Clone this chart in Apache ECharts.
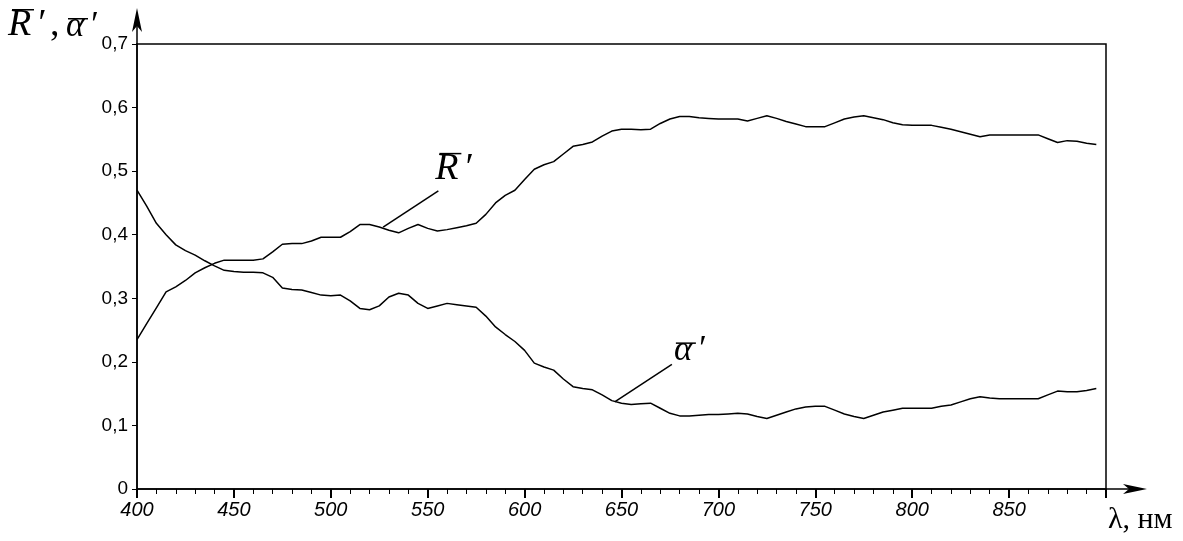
<!DOCTYPE html>
<html>
<head>
<meta charset="utf-8">
<script src="https://cdn.jsdelivr.net/npm/echarts/dist/echarts.min.js"></script>
<style>
  html, body { margin: 0; padding: 0; background: #fff; }
  #main { width: 1183px; height: 541px; }
</style>
</head>
<body>
<div id="main"></div>
<script>
// длины волн, нм
var wavelengths = [400,405,410,415,420,425,430,435,440,445,450,455,460,465,470,475,480,485,490,495,
  500,505,510,515,520,525,530,535,540,545,550,555,560,565,570,575,580,585,590,595,
  600,605,610,615,620,625,630,635,640,645,650,655,660,665,670,675,680,685,690,695,
  700,705,710,715,720,725,730,735,740,745,750,755,760,765,770,775,780,785,790,795,
  800,805,810,815,820,825,830,835,840,845,850,855,860,865,870,875,880,885,890,895];

// R' (отражение)
var reflValues = [0.235,0.26,0.285,0.31,0.318,0.328,0.34,0.348,0.355,0.36,0.36,0.36,0.36,0.362,0.373,0.385,0.386,0.386,0.39,0.396,
  0.396,0.396,0.405,0.416,0.416,0.412,0.407,0.403,0.41,0.416,0.41,0.406,0.408,0.411,0.414,0.418,0.432,0.45,0.462,0.47,
  0.487,0.503,0.51,0.515,0.527,0.539,0.542,0.546,0.555,0.563,0.566,0.566,0.565,0.566,0.575,0.582,0.586,0.586,0.584,0.583,
  0.582,0.582,0.582,0.579,0.583,0.587,0.583,0.578,0.574,0.57,0.57,0.57,0.576,0.582,0.585,0.587,0.584,0.581,0.576,0.573,
  0.572,0.572,0.572,0.569,0.566,0.562,0.558,0.554,0.557,0.557,0.557,0.557,0.557,0.557,0.551,0.545,0.548,0.547,0.544,0.542];

// alpha' (поглощение)
var absValues = [0.47,0.445,0.418,0.4,0.384,0.375,0.368,0.359,0.351,0.344,0.342,0.341,0.341,0.34,0.333,0.316,0.314,0.313,0.309,0.305,
  0.304,0.305,0.296,0.284,0.282,0.288,0.302,0.308,0.305,0.292,0.284,0.288,0.292,0.29,0.288,0.286,0.272,0.255,0.243,0.232,
  0.218,0.198,0.192,0.187,0.173,0.161,0.158,0.156,0.148,0.139,0.135,0.133,0.134,0.135,0.127,0.119,0.115,0.115,0.116,0.117,
  0.117,0.118,0.119,0.118,0.114,0.111,0.116,0.121,0.126,0.129,0.13,0.13,0.124,0.118,0.114,0.111,0.116,0.121,0.124,0.127,
  0.127,0.127,0.127,0.13,0.132,0.137,0.142,0.145,0.143,0.142,0.142,0.142,0.142,0.142,0.148,0.154,0.153,0.153,0.155,0.158];

// выноски: [точка на кривой, конец выноски]
var reflLeader = [[527, 0.412], [555.5, 0.469]];
var absLeader = [[646.5, 0.137], [676, 0.196]];

function pairs(xs, ys) {
  var out = [];
  for (var i = 0; i < xs.length; i++) out.push([xs[i], ys[i]]);
  return out;
}

var serif = '"Liberation Serif", "Times New Roman", "DejaVu Serif", serif';
var sans = 'Liberation Sans, sans-serif';
var chart = echarts.init(document.getElementById('main'));

function leader(pts) {
  return {
    silent: true,
    symbol: ['none', 'none'],
    label: { show: false },
    lineStyle: { color: '#000', width: 1.5, type: 'solid' },
    data: [[{ coord: pts[0] }, { coord: pts[1] }]]
  };
}

chart.setOption({
  animation: false,
  grid: { left: 137, right: 77, top: 44, bottom: 52, show: true, borderColor: '#000', borderWidth: 1.5 },
  xAxis: {
    type: 'value', min: 400, max: 900, interval: 50,
    axisLine: { lineStyle: { color: '#000', width: 1.5 } },
    axisTick: { length: 9, lineStyle: { color: '#000', width: 2 } },
    minorTick: { show: true, splitNumber: 5, length: 5, lineStyle: { color: '#000', width: 1 } },
    axisLabel: {
      showMaxLabel: false, color: '#000', fontSize: 20, fontStyle: 'italic', margin: 11,
      fontFamily: sans
    },
    splitLine: { show: false }
  },
  yAxis: {
    type: 'value', min: 0, max: 0.7, interval: 0.1,
    axisLine: { lineStyle: { color: '#000', width: 1.5 } },
    axisTick: { length: 5, lineStyle: { color: '#000', width: 1 } },
    axisLabel: {
      color: '#000', fontSize: 19, margin: 9, fontFamily: sans,
      formatter: function (v) { return v === 0 ? '0' : v.toFixed(1).replace('.', ','); }
    },
    splitLine: { show: false }
  },
  series: [
    {
      name: "R'", type: 'line', showSymbol: false, data: pairs(wavelengths, reflValues),
      lineStyle: { color: '#000', width: 1.5 }, markLine: leader(reflLeader)
    },
    {
      name: "alpha'", type: 'line', showSymbol: false, data: pairs(wavelengths, absValues),
      lineStyle: { color: '#000', width: 1.5 }, markLine: leader(absLeader)
    }
  ]
});

var g = [];
var n = 0;
function txt(x, y, s, size, italic) {
  g.push({
    type: 'text', id: 't' + (n++), x: x, y: y, z: 100,
    style: { text: s, fontSize: size, fontFamily: serif, fontStyle: italic ? 'italic' : 'normal', fill: '#000' }
  });
}
function bar(x, y, w) {
  g.push({ type: 'rect', id: 'b' + (n++), z: 100, shape: { x: x, y: y, width: w, height: 1.5 }, style: { fill: '#000' } });
}
// R с чертой и штрихом, (x, y) — левый верхний угол текста
function rLabel(x, y) {
  txt(x, y, 'R', 38, true);
  bar(x + 4, y + 3, 22);
  txt(x + 28, y, '\u2032', 38, true);
}
function aLabel(x, y) {
  txt(x, y, '\u03b1', 35, true);
  bar(x + 2, y + 9, 20);
  txt(x + 23, y, '\u2032', 35, true);
}

var p0 = chart.convertToPixel({ gridIndex: 0 }, [400, 0]);
var pTop = chart.convertToPixel({ gridIndex: 0 }, [400, 0.7]);
var pEnd = chart.convertToPixel({ gridIndex: 0 }, [900, 0]);
var rEnd = chart.convertToPixel({ gridIndex: 0 }, reflLeader[1]);
var aEnd = chart.convertToPixel({ gridIndex: 0 }, absLeader[1]);

// стрелка оси Y
g.push({ type: 'line', id: 'ay', shape: { x1: p0[0], y1: pTop[1], x2: p0[0], y2: 14 }, style: { stroke: '#000', lineWidth: 1.5 } });
g.push({ type: 'polygon', id: 'ayh', shape: { points: [[p0[0], 8], [p0[0] - 5, 32], [p0[0], 26], [p0[0] + 5, 32]] }, style: { fill: '#000' } });
// стрелка оси X
g.push({ type: 'line', id: 'ax', shape: { x1: pEnd[0], y1: pEnd[1], x2: 1140, y2: pEnd[1] }, style: { stroke: '#000', lineWidth: 1.5 } });
g.push({ type: 'polygon', id: 'axh', shape: { points: [[1147, pEnd[1]], [1123, pEnd[1] - 5], [1129, pEnd[1]], [1123, pEnd[1] + 5]] }, style: { fill: '#000' } });

// заголовок оси Y
rLabel(8, 6);
txt(50, 6, ',', 38, false);
aLabel(66, 9);

// подписи кривых
rLabel(rEnd[0] - 3, rEnd[1] - 41);
aLabel(aEnd[0] + 2, aEnd[1] - 31);

// подпись оси X
txt(1108, 505, '\u03bb, нм', 30, false);

chart.setOption({ graphic: g });
</script>
</body>
</html>
